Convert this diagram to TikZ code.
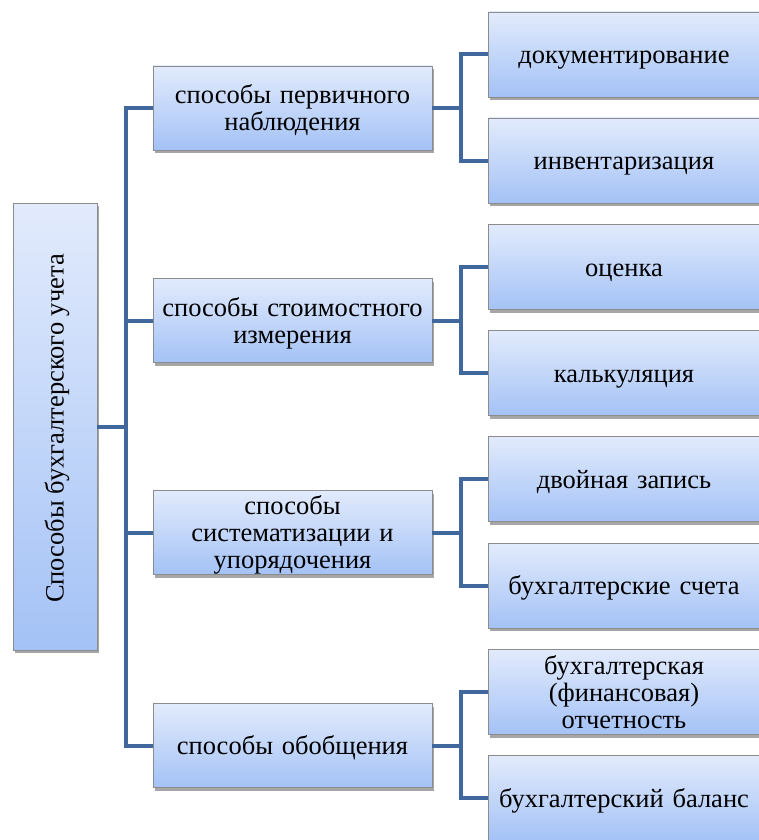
\documentclass[tikz,border=0pt]{standalone}
\usepackage{fontspec}
\setmainfont{Liberation Serif}
\usetikzlibrary{shadows,calc}
\definecolor{linec}{RGB}{65,104,156}
\definecolor{boxtop}{RGB}{226,235,252}
\definecolor{boxbot}{RGB}{164,194,246}
\definecolor{boxedge}{RGB}{140,140,140}
\begin{document}
\begin{tikzpicture}[x=1pt,y=-1pt,
  txt/.style={font=\fontsize{26.5}{27}\selectfont},
  box/.style={draw=boxedge, line width=0.8pt, top color=boxtop, bottom color=boxbot,
    drop shadow={shadow xshift=2pt, shadow yshift=-3pt, fill=black, opacity=0.35},
    inner sep=1pt, align=center, txt, text height=22.5pt, text depth=4.5pt},
  two lines/.style={text depth=31.5pt},
  three lines/.style={text depth=58.5pt},
  midbox/.style={box, minimum width=279pt, minimum height=84pt, text width=276pt},
  leafbox/.style={box, minimum width=272pt, minimum height=85pt, text width=268pt},
  conn/.style={draw=linec, line width=4pt}]
\useasboundingbox (0,0) rectangle (759,840);
% root
\node[draw=boxedge, line width=0.8pt, top color=boxtop, bottom color=boxbot,
    drop shadow={shadow xshift=2pt, shadow yshift=-3pt, fill=black, opacity=0.35},
    minimum width=84pt, minimum height=447pt] (root) at (55,426.5) {};
\node[rotate=90, txt, anchor=base] (roottext) at ($(root.center)+(8.5,2)$) {Способы бухгалтерского учета};
% middle
\node[midbox, two lines] (m1) at (292.5,108) {способы первичного\\наблюдения};
\node[midbox, two lines] (m2) at (292.5,320.5) {способы стоимостного\\измерения};
\node[midbox, three lines] (m3) at (292.5,532.5) {способы\\систематизации и\\упорядочения};
\node[midbox] (m4) at (292.5,745.5) {способы обобщения};
% leaves
\node[leafbox] (l1) at (624,54.5) {документирование};
\node[leafbox] (l2) at (624,160.5) {инвентаризация};
\node[leafbox] (l3) at (624,267) {оценка};
\node[leafbox] (l4) at (624,373) {калькуляция};
\node[leafbox] (l5) at (624,479) {двойная запись};
\node[leafbox] (l6) at (624,585.5) {бухгалтерские счета};
\node[leafbox, three lines] (l7) at (624,692) {бухгалтерская\\(финансовая)\\отчетность};
\node[leafbox] (l8) at (624,798) {бухгалтерский баланс};
% connectors
\coordinate (sp) at (126,426.5);
\draw[conn] (root.east) -- (sp);
\draw[conn] (m1.west) -| (sp);
\draw[conn] (m4.west) -| (sp);
\draw[conn] (m2.west) -- (m2.west -| sp);
\draw[conn] (m3.west) -- (m3.west -| sp);
\foreach \m/\a/\b in {m1/l1/l2, m2/l3/l4, m3/l5/l6, m4/l7/l8}{
  \coordinate (j\m) at ($(\m.east)+(29,0)$);
  \draw[conn] (\m.east) -- (j\m);
  \draw[conn] (\a.west) -| (j\m);
  \draw[conn] (\b.west) -| (j\m);
}
\end{tikzpicture}
\end{document}
